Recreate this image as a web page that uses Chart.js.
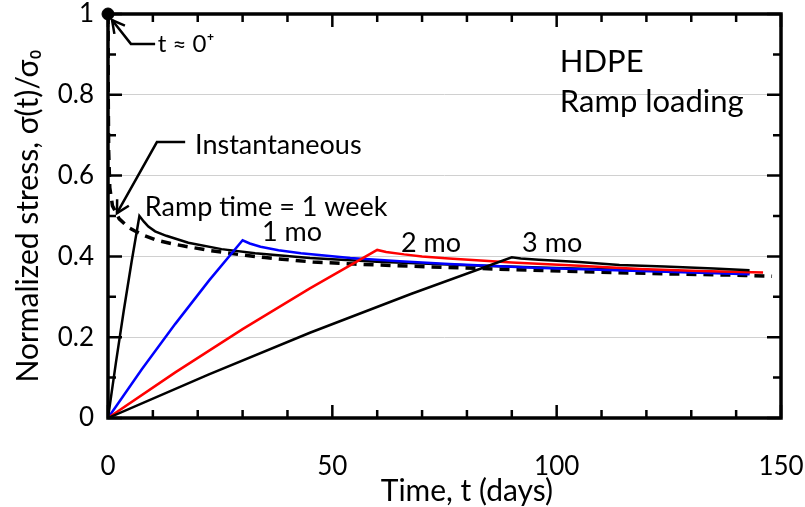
<!DOCTYPE html>
<html lang="en">
<head>
  <meta charset="UTF-8">
  <title>HDPE ramp loading</title>
  <script src="https://cdn.jsdelivr.net/npm/chart.js"></script>
  <style>
    body { margin: 0; background: #fff; }
    #wrap { width: 805px; height: 507px; }
  </style>
</head>
<body>
  <div id="wrap"><canvas id="chart" width="805" height="507"></canvas></div>
  <script>
    // values (time in days, normalized stress)
    var instTime = [0, 0.05, 0.15, 0.4, 1, 2.5, 4.5, 6, 8, 10.8, 14, 17.2, 23, 29, 35, 45.7, 55, 69.5, 83, 97, 112.5, 128, 142, 148];
    var instStress = [1, 0.8, 0.66, 0.57, 0.525, 0.493, 0.472, 0.463, 0.452, 0.44, 0.432, 0.425, 0.414, 0.405, 0.397, 0.386, 0.381, 0.375, 0.37, 0.365, 0.36, 0.356, 0.353, 0.351];

    var weekTime = [0, 1.75, 3.5, 5.25, 7, 8, 9, 10.5, 13, 17.9, 25.3, 32.8, 45, 60, 80, 100, 120, 143];
    var weekStress = [0, 0.136, 0.265, 0.386, 0.5, 0.486, 0.474, 0.462, 0.451, 0.434, 0.418, 0.408, 0.396, 0.387, 0.378, 0.371, 0.365, 0.359];

    var monthTime = [0, 7.5, 15, 22.5, 30, 31.6, 34, 38, 43, 54, 65, 76, 95, 115, 130, 143];
    var monthStress = [0, 0.12, 0.233, 0.34, 0.44, 0.432, 0.424, 0.415, 0.408, 0.396, 0.388, 0.381, 0.372, 0.365, 0.36, 0.356];

    var twoMoTime = [0, 15, 30, 45, 60, 62, 66, 70, 76, 90, 105, 118.6, 132, 146];
    var twoMoStress = [0, 0.113, 0.22, 0.321, 0.416, 0.411, 0.405, 0.4, 0.395, 0.385, 0.377, 0.369, 0.364, 0.36];

    var threeMoTime = [0, 22.5, 45, 67.5, 90, 92, 96, 100, 105, 114, 124, 135, 143];
    var threeMoStress = [0, 0.108, 0.211, 0.307, 0.398, 0.395, 0.392, 0.389, 0.386, 0.379, 0.375, 0.37, 0.366];

    var xTicks = [0, 50, 100, 150];
    var yTicks = [0, 0.2, 0.4, 0.6, 0.8, 1];

    // text labels: [text, time, stress, size]
    var notes = [
      ['t \u2248 0\u207A', 11.1, 0.926, 24],
      ['HDPE', 100.7, 0.881, 31],
      ['Ramp loading', 100.7, 0.782, 31],
      ['Instantaneous', 19.4, 0.676, 27],
      ['Ramp time = 1 week', 8.2, 0.522, 27],
      ['1 mo', 34.3, 0.46, 27],
      ['2 mo', 65.3, 0.433, 27],
      ['3 mo', 92.3, 0.433, 27]
    ];
    // leader arrows: polyline in data units, last point is the arrow tip
    var arrows = [
      [[10.5, 0.926], [5.1, 0.926], [0.9, 0.985]],
      [[17.2, 0.683], [10.9, 0.683], [2.0, 0.507]]
    ];
    var xTitle = 'Time, t (days)';

    function pts(xs, ys) {
      return xs.map(function (x, i) { return { x: x, y: ys[i] }; });
    }

    var FONT = 'Lato, "Open Sans", sans-serif';

    var framePlugin = {
      id: 'frame',
      afterDraw: function (chart) {
        var ctx = chart.ctx, a = chart.chartArea;
        var xs = chart.scales.x, ys = chart.scales.y;
        ctx.save();
        ctx.strokeStyle = '#000';
        ctx.lineCap = 'butt';

        // minor / major ticks, all pointing inward
        ctx.lineWidth = 2.5;
        for (var d = 0; d <= 150; d += 10) {
          var px = xs.getPixelForValue(d);
          var len = d % 50 === 0 ? 13 : 8;
          ctx.beginPath();
          ctx.moveTo(px, a.bottom); ctx.lineTo(px, a.bottom - len);
          ctx.moveTo(px, a.top); ctx.lineTo(px, a.top + len);
          ctx.stroke();
        }
        for (var k = 0; k <= 10; k++) {
          var py = ys.getPixelForValue(k / 10);
          var l2 = k % 2 === 0 ? 14 : 8;
          ctx.beginPath();
          ctx.moveTo(a.left, py); ctx.lineTo(a.left + l2, py);
          ctx.moveTo(a.right, py); ctx.lineTo(a.right - l2, py);
          ctx.stroke();
        }

        // box
        ctx.lineWidth = 3.5;
        ctx.strokeRect(a.left, a.top, a.right - a.left, a.bottom - a.top);

        // notes
        ctx.fillStyle = '#000';
        ctx.textBaseline = 'middle';
        ctx.textAlign = 'left';
        notes.forEach(function (n) {
          ctx.font = n[3] + 'px ' + FONT;
          ctx.fillText(n[0], xs.getPixelForValue(n[1]), ys.getPixelForValue(n[2]));
        });

        // x axis title, a bit right of centre like the original
        ctx.font = '30px ' + FONT;
        ctx.textAlign = 'center';
        ctx.fillText(xTitle, xs.getPixelForValue(80), a.bottom + 73);

        // arrows
        ctx.lineWidth = 2.5;
        arrows.forEach(function (ar) {
          var p = ar.map(function (q) { return [xs.getPixelForValue(q[0]), ys.getPixelForValue(q[1])]; });
          ctx.beginPath();
          ctx.moveTo(p[0][0], p[0][1]);
          for (var i = 1; i < p.length; i++) ctx.lineTo(p[i][0], p[i][1]);
          ctx.stroke();
          var tip = p[p.length - 1], prev = p[p.length - 2];
          var ang = Math.atan2(tip[1] - prev[1], tip[0] - prev[0]);
          ctx.beginPath();
          ctx.moveTo(tip[0] - 14 * Math.cos(ang - 0.5), tip[1] - 14 * Math.sin(ang - 0.5));
          ctx.lineTo(tip[0], tip[1]);
          ctx.lineTo(tip[0] - 14 * Math.cos(ang + 0.5), tip[1] - 14 * Math.sin(ang + 0.5));
          ctx.stroke();
        });
        ctx.restore();
      }
    };

    var line = { showLine: true, pointRadius: 0, borderWidth: 2.5, tension: 0, fill: false };

    new Chart(document.getElementById('chart'), {
      type: 'scatter',
      data: {
        datasets: [
          Object.assign({ data: pts(threeMoTime, threeMoStress), borderColor: '#000' }, line),
          Object.assign({ data: pts(twoMoTime, twoMoStress), borderColor: '#ff0000' }, line),
          Object.assign({ data: pts(monthTime, monthStress), borderColor: '#0000ff' }, line),
          Object.assign({ data: pts(weekTime, weekStress), borderColor: '#000' }, line),
          Object.assign({ data: pts(instTime, instStress), borderColor: '#000' }, line, { borderWidth: 3.5, borderDash: [10, 7] }),
          { data: [{ x: instTime[0], y: instStress[0] }], pointRadius: 6, backgroundColor: '#000', borderColor: '#000', showLine: false, clip: false }
        ]
      },
      options: {
        responsive: false,
        animation: false,
        devicePixelRatio: 1,
        layout: { padding: { top: 14, right: 24, left: 0, bottom: 0 } },
        plugins: { legend: { display: false }, tooltip: { enabled: false } },
        scales: {
          x: {
            type: 'linear', min: 0, max: 150,
            afterBuildTicks: function (s) { s.ticks = xTicks.map(function (v) { return { value: v }; }); },
            afterFit: function (s) { s.height = 89; s.paddingLeft = 0; s.paddingRight = 0; },
            grid: { display: false, drawTicks: false },
            border: { display: false },
            ticks: { color: '#000', font: { family: FONT, size: 26 }, padding: 33, maxRotation: 0 },
            title: { display: false }
          },
          y: {
            type: 'linear', min: 0, max: 1,
            afterBuildTicks: function (s) { s.ticks = yTicks.map(function (v) { return { value: v }; }); },
            afterFit: function (s) { s.width = 108; s.paddingTop = 0; s.paddingBottom = 0; },
            grid: { color: '#d0d0d0', lineWidth: 1, drawTicks: false },
            border: { display: false },
            ticks: { color: '#000', font: { family: FONT, size: 26 }, padding: 14, callback: function (v) { return String(Math.round(v * 10) / 10); } },
            title: { display: true, text: 'Normalized stress, \u03C3(t)/\u03C3\u2080', color: '#000', font: { family: FONT, size: 30 }, padding: { top: 10, bottom: 0 } }
          }
        }
      },
      plugins: [framePlugin]
    });
  </script>
</body>
</html>
